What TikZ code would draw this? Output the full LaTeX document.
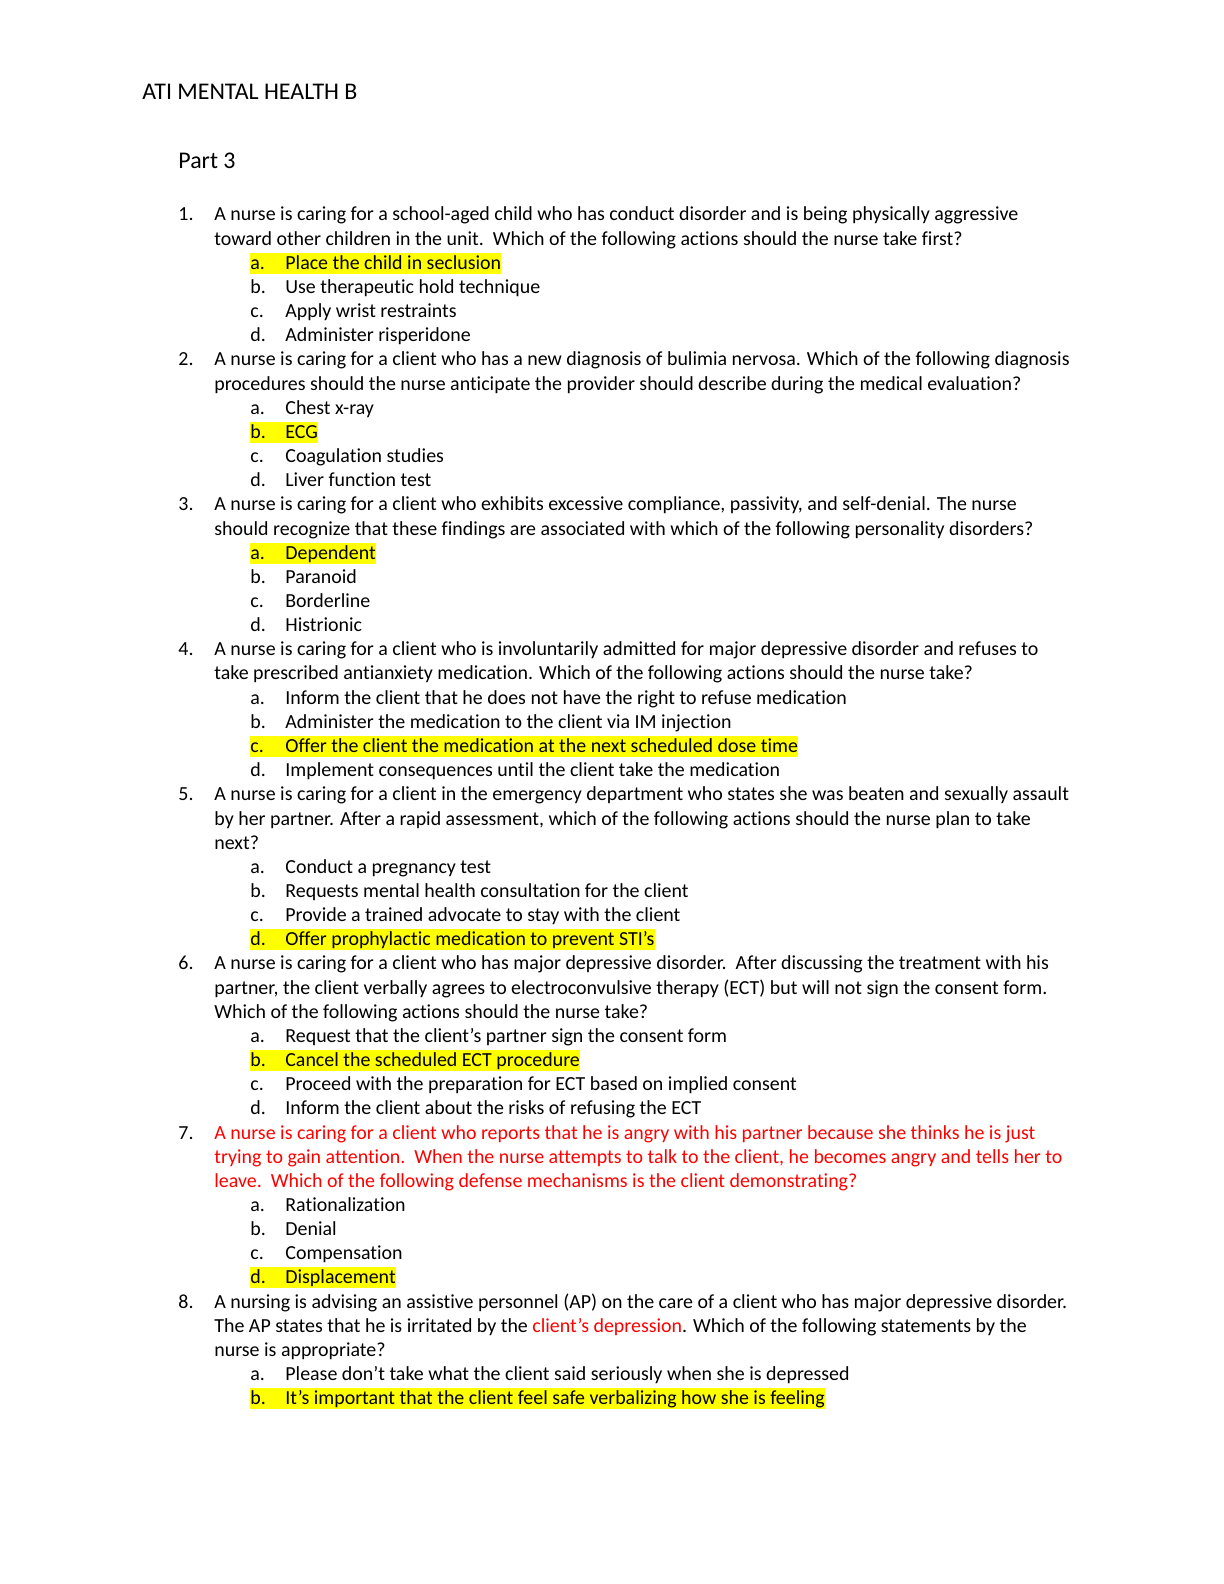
\documentclass[tikz,border=0pt]{standalone}
\usepackage{fontspec}
\setmainfont[Ligatures=NoCommon]{Carlito}
\usetikzlibrary{positioning}
\definecolor{qred}{RGB}{255,0,0}
\definecolor{hlyellow}{RGB}{255,255,0}
\tikzset{
  txt/.style={anchor=base west, inner sep=0pt, yshift=-2bp, font=\fontsize{10}{12}\selectfont},
  hl/.style={txt, fill=hlyellow, text height=8bp, text depth=2.5bp},
  redtxt/.style={txt, text=qred}
}
\newcommand{\opt}[2]{\makebox[17.5bp][l]{#1}#2}
\begin{document}
\begin{tikzpicture}[x=0.5bp, y=-0.5bp]
  \useasboundingbox (0,0) rectangle (1224,1584);
  \node[txt, font=\fontsize{12}{14}\selectfont] (title) at (142,95) {ATI MENTAL HEALTH B};
  \node[txt, font=\fontsize{12}{14}\selectfont] (part) at (178,164) {Part 3};

  % question 1
  \node[txt] (n1) at (178,216) {1.};
  \node[txt] (q1a) at (214,216) {A nurse is caring for a school-aged child who has conduct disorder and is being physically aggressive};
  \node[txt] (q1b) at (214,241) {toward other children in the unit.\ \ Which of the following actions should the nurse take first?};
  \node[hl] (q1oa) at (250,265) {\opt{a.}{Place the child in seclusion}};
  \node[txt] (q1ob) at (250,289) {\opt{b.}{Use therapeutic hold technique}};
  \node[txt] (q1oc) at (250,313) {\opt{c.}{Apply wrist restraints}};
  \node[txt] (q1od) at (250,337) {\opt{d.}{Administer risperidone}};

  % question 2
  \node[txt] (n2) at (178,361) {2.};
  \node[txt] (q2a) at (214,361) {A nurse is caring for a client who has a new diagnosis of bulimia nervosa. Which of the following diagnosis};
  \node[txt] (q2b) at (214,386) {procedures should the nurse anticipate the provider should describe during the medical evaluation?};
  \node[txt] (q2oa) at (250,410) {\opt{a.}{Chest x-ray}};
  \node[hl] (q2ob) at (250,434) {\opt{b.}{ECG}};
  \node[txt] (q2oc) at (250,458) {\opt{c.}{Coagulation studies}};
  \node[txt] (q2od) at (250,482) {\opt{d.}{Liver function test}};

  % question 3
  \node[txt] (n3) at (178,506) {3.};
  \node[txt] (q3a) at (214,506) {A nurse is caring for a client who exhibits excessive compliance, passivity, and self-denial. The nurse};
  \node[txt] (q3b) at (214,531) {should recognize that these findings are associated with which of the following personality disorders?};
  \node[hl] (q3oa) at (250,555) {\opt{a.}{Dependent}};
  \node[txt] (q3ob) at (250,579) {\opt{b.}{Paranoid}};
  \node[txt] (q3oc) at (250,603) {\opt{c.}{Borderline}};
  \node[txt] (q3od) at (250,627) {\opt{d.}{Histrionic}};

  % question 4
  \node[txt] (n4) at (178,651) {4.};
  \node[txt] (q4a) at (214,651) {A nurse is caring for a client who is involuntarily admitted for major depressive disorder and refuses to};
  \node[txt] (q4b) at (214,675) {take prescribed antianxiety medication. Which of the following actions should the nurse take?};
  \node[txt] (q4oa) at (250,700) {\opt{a.}{Inform the client that he does not have the right to refuse medication}};
  \node[txt] (q4ob) at (250,724) {\opt{b.}{Administer the medication to the client via IM injection}};
  \node[hl] (q4oc) at (250,748) {\opt{c.}{Offer the client the medication at the next scheduled dose time}};
  \node[txt] (q4od) at (250,772) {\opt{d.}{Implement consequences until the client take the medication}};

  % question 5
  \node[txt] (n5) at (178,796) {5.};
  \node[txt] (q5a) at (214,796) {A nurse is caring for a client in the emergency department who states she was beaten and sexually assault};
  \node[txt] (q5b) at (214,821) {by her partner. After a rapid assessment, which of the following actions should the nurse plan to take};
  \node[txt] (q5c) at (214,845) {next?};
  \node[txt] (q5oa) at (250,869) {\opt{a.}{Conduct a pregnancy test}};
  \node[txt] (q5ob) at (250,893) {\opt{b.}{Requests mental health consultation for the client}};
  \node[txt] (q5oc) at (250,917) {\opt{c.}{Provide a trained advocate to stay with the client}};
  \node[hl] (q5od) at (250,941) {\opt{d.}{Offer prophylactic medication to prevent STI’s}};

  % question 6
  \node[txt] (n6) at (178,965) {6.};
  \node[txt] (q6a) at (214,965) {A nurse is caring for a client who has major depressive disorder.\ \ After discussing the treatment with his};
  \node[txt] (q6b) at (214,990) {partner, the client verbally agrees to electroconvulsive therapy (ECT) but will not sign the consent form.};
  \node[txt] (q6c) at (214,1014) {Which of the following actions should the nurse take?};
  \node[txt] (q6oa) at (250,1038) {\opt{a.}{Request that the client’s partner sign the consent form}};
  \node[hl] (q6ob) at (250,1062) {\opt{b.}{Cancel the scheduled ECT procedure}};
  \node[txt] (q6oc) at (250,1086) {\opt{c.}{Proceed with the preparation for ECT based on implied consent}};
  \node[txt] (q6od) at (250,1110) {\opt{d.}{Inform the client about the risks of refusing the ECT}};

  % question 7
  \node[txt] (n7) at (178,1135) {7.};
  \node[redtxt] (q7a) at (214,1135) {A nurse is caring for a client who reports that he is angry with his partner because she thinks he is just};
  \node[redtxt] (q7b) at (214,1159) {trying to gain attention.\ \ When the nurse attempts to talk to the client, he becomes angry and tells her to};
  \node[redtxt] (q7c) at (214,1183) {leave.\ \ Which of the following defense mechanisms is the client demonstrating?};
  \node[txt] (q7oa) at (250,1207) {\opt{a.}{Rationalization}};
  \node[txt] (q7ob) at (250,1231) {\opt{b.}{Denial}};
  \node[txt] (q7oc) at (250,1255) {\opt{c.}{Compensation}};
  \node[hl] (q7od) at (250,1279) {\opt{d.}{Displacement}};

  % question 8
  \node[txt] (n8) at (178,1304) {8.};
  \node[txt] (q8a) at (214,1304) {A nursing is advising an assistive personnel (AP) on the care of a client who has major depressive disorder.};
  \node[txt] (q8b) at (214,1328) {The AP states that he is irritated by the \textcolor{qred}{client’s depression}. Which of the following statements by the};
  \node[txt] (q8c) at (214,1352) {nurse is appropriate?};
  \node[txt] (q8oa) at (250,1376) {\opt{a.}{Please don’t take what the client said seriously when she is depressed}};
  \node[hl] (q8ob) at (250,1400) {\opt{b.}{It’s important that the client feel safe verbalizing how she is feeling}};
\end{tikzpicture}
\end{document}
